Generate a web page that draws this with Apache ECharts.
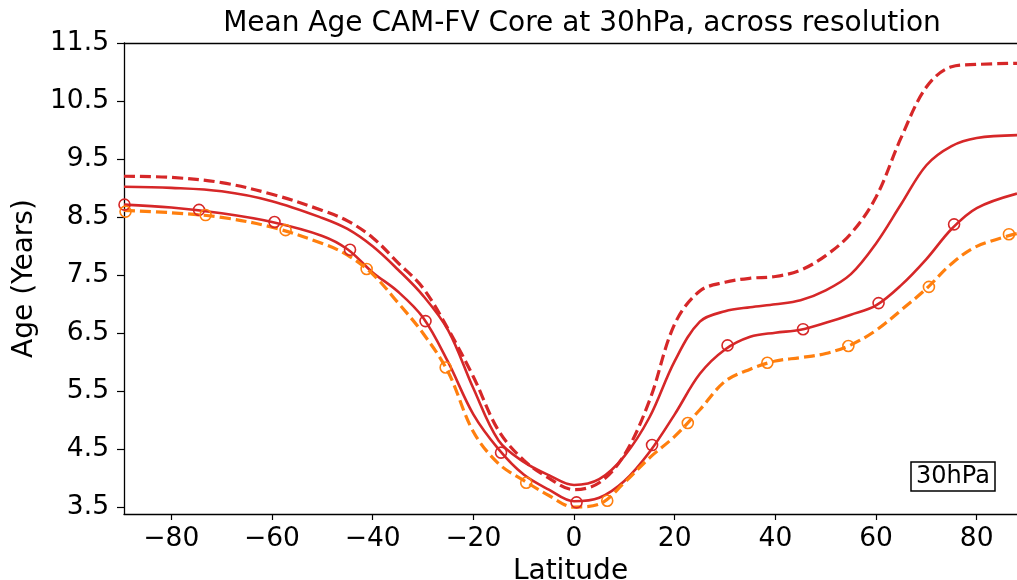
<!DOCTYPE html>
<html>
<head>
<meta charset="utf-8">
<script src="https://cdn.jsdelivr.net/npm/echarts@6/dist/echarts.min.js"></script>
<style>
  html, body { margin: 0; padding: 0; background: #fff; }
  #chart { width: 1017px; height: 580px; }
</style>
</head>
<body>
<div id="chart"></div>
<script>
const lats = [-89.4, -80, -70, -60, -50, -45, -40, -35, -30, -25, -20, -15, -10, -5, 0, 5, 10, 15, 20, 25, 30, 35, 40, 45, 50, 55, 60, 65, 70, 75, 80, 88];

// Red dashed (oldest)
const ageDashRed = [9.21, 9.19, 9.10, 8.90, 8.62, 8.44, 8.15, 7.72, 7.28, 6.57, 5.75, 4.82, 4.31, 4.00, 3.80, 3.92, 4.40, 5.34, 6.66, 7.23, 7.38, 7.45, 7.48, 7.59, 7.84, 8.22, 8.85, 9.88, 10.75, 11.10, 11.14, 11.16];
// Red solid, upper
const ageSolidHi = [9.03, 9.01, 8.95, 8.78, 8.49, 8.30, 8.00, 7.60, 7.15, 6.55, 5.55, 4.65, 4.28, 4.05, 3.88, 3.98, 4.38, 5.05, 6.02, 6.70, 6.88, 6.95, 7.00, 7.07, 7.24, 7.52, 8.05, 8.73, 9.40, 9.73, 9.87, 9.92];
// Red solid, lower (with markers)
const ageSolidLo = [8.72, 8.67, 8.57, 8.42, 8.18, 7.95, 7.55, 7.22, 6.77, 6.00, 5.10, 4.50, 4.06, 3.80, 3.60, 3.66, 3.95, 4.45, 5.10, 5.80, 6.22, 6.44, 6.51, 6.56, 6.68, 6.82, 6.98, 7.33, 7.78, 8.30, 8.66, 8.91];
// Orange dashed (with markers)
const ageDashOrange = [8.62, 8.58, 8.50, 8.33, 8.05, 7.85, 7.52, 7.03, 6.50, 5.83, 4.80, 4.25, 3.96, 3.70, 3.50, 3.55, 3.92, 4.35, 4.72, 5.18, 5.67, 5.88, 6.02, 6.08, 6.15, 6.30, 6.55, 6.90, 7.27, 7.70, 8.00, 8.22];

// Marker positions
const markLatRed = [-89.3, -74.5, -59.5, -44.5, -29.5, -14.5, 0.5, 15.5, 30.5, 45.5, 60.5, 75.5];
const markAgeRed = [8.72, 8.63, 8.42, 7.94, 6.71, 4.44, 3.58, 4.57, 6.29, 6.57, 7.02, 8.38];
const markLatOrange = [-89.1, -73.2, -57.3, -41.2, -25.5, -9.5, 6.6, 22.6, 38.4, 54.5, 70.5, 86.4];
const markAgeOrange = [8.60, 8.54, 8.28, 7.61, 5.91, 3.92, 3.61, 4.95, 5.99, 6.28, 7.30, 8.21];

const xTicks = [-80, -60, -40, -20, 0, 20, 40, 60, 80];
const yTicks = [3.5, 4.5, 5.5, 6.5, 7.5, 8.5, 9.5, 10.5, 11.5];

const RED = '#d62728';
const ORANGE = '#ff7f0e';
const FONT = 'DejaVu Sans';

const pairs = (xs, ys) => xs.map((x, i) => [x, ys[i]]);

const chart = echarts.init(document.getElementById('chart'));

function lineSeries(data, color, dashed, width) {
    return {
        type: 'line',
        data: data,
        smooth: 0.35,
        symbol: 'none',
        silent: true,
        lineStyle: { color: color, width: width, type: dashed ? [11, 5] : 'solid', cap: 'butt' },
        z: 3,
    };
}

// hollow circles, the line shows through
function markerSeries(data, color) {
    return {
        type: 'scatter',
        data: data,
        symbol: 'circle',
        symbolSize: 11,
        silent: true,
        itemStyle: { color: 'rgba(0,0,0,0)', borderColor: color, borderWidth: 1.6, opacity: 1 },
        z: 4,
    };
}

const option = {
    animation: false,
    backgroundColor: '#fff',
    textStyle: { fontFamily: FONT },
    title: [{
        text: 'Mean Age CAM-FV Core at 30hPa, across resolution',
        left: 577, top: 5, textAlign: 'center',
        textStyle: { fontFamily: FONT, fontSize: 28, fontWeight: 'normal', color: '#000' },
    }, {
        text: '30hPa',
        left: 911, top: 462,
        padding: [3, 5, 2, 5],
        borderColor: '#000', borderWidth: 1.5,
        textStyle: { fontFamily: FONT, fontSize: 24, fontWeight: 'normal', color: '#000' },
    }],
    grid: { left: 124, right: 0, top: 43, bottom: 66, containLabel: false, outerBoundsMode: 'none' },
    xAxis: [{
        type: 'value',
        min: -89.4, max: 88,
        name: 'Latitude',
        nameLocation: 'middle',
        nameGap: 41,
        nameTextStyle: { fontFamily: FONT, fontSize: 28, color: '#000' },
        axisLine: { show: true, onZero: false, lineStyle: { color: '#000', width: 1.3 } },
        axisTick: { show: true, length: 6, customValues: xTicks, lineStyle: { color: '#000', width: 1.2 } },
        axisLabel: {
            customValues: xTicks, margin: 12,
            fontFamily: FONT, fontSize: 26.5, color: '#000',
            formatter: v => (v < 0 ? '\u2212' + (-v) : String(v)),
        },
        splitLine: { show: false },
    }, {
        type: 'value', position: 'top',
        min: -89.4, max: 88,
        axisLine: { show: true, onZero: false, lineStyle: { color: '#000', width: 1.3 } },
        axisTick: { show: false }, axisLabel: { show: false }, splitLine: { show: false },
    }],
    yAxis: {
        type: 'value',
        min: 3.38, max: 11.51,
        name: 'Age (Years)',
        nameLocation: 'middle',
        nameGap: 84,
        nameTextStyle: { fontFamily: FONT, fontSize: 28, color: '#000' },
        axisLine: { show: true, onZero: false, lineStyle: { color: '#000', width: 1.3 } },
        axisTick: { show: true, length: 7, customValues: yTicks, lineStyle: { color: '#000', width: 1.2 } },
        axisLabel: {
            customValues: yTicks, margin: 15,
            fontFamily: FONT, fontSize: 26.5, color: '#000',
            formatter: v => v.toFixed(1),
        },
        splitLine: { show: false },
    },
    series: [
        lineSeries(pairs(lats, ageDashRed), RED, true, 3.2),
        lineSeries(pairs(lats, ageSolidHi), RED, false, 2.6),
        lineSeries(pairs(lats, ageSolidLo), RED, false, 2.6),
        lineSeries(pairs(lats, ageDashOrange), ORANGE, true, 3.2),
        markerSeries(pairs(markLatRed, markAgeRed), RED),
        markerSeries(pairs(markLatOrange, markAgeOrange), ORANGE),
    ],
};

chart.setOption(option);
window.addEventListener('resize', () => chart.resize());
</script>
</body>
</html>
